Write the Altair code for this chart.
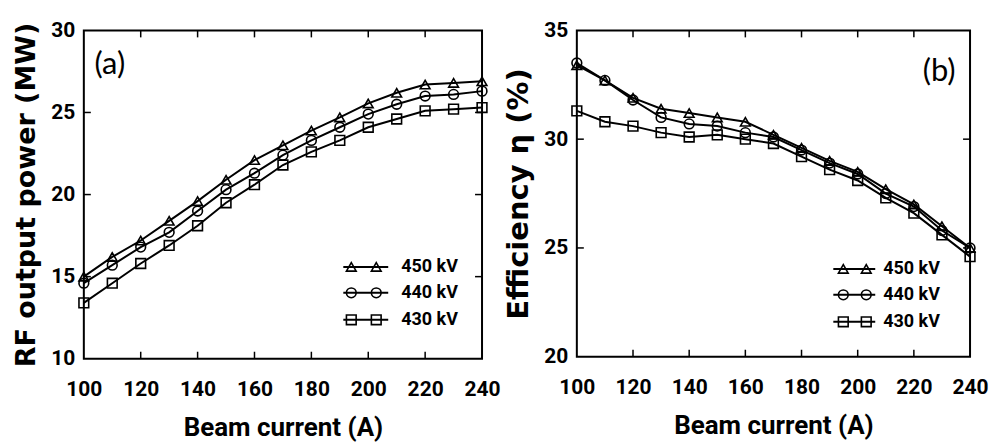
import altair as alt
import pandas as pd

currents = [100, 110, 120, 130, 140, 150, 160, 170, 180, 190, 200, 210, 220, 230, 240]
series = ["450 kV", "440 kV", "430 kV"]
shapes = ["triangle-up", "circle", "square"]

power_450 = [15.0, 16.2, 17.2, 18.4, 19.6, 20.9, 22.1, 23.0, 23.9, 24.7, 25.55, 26.2, 26.7, 26.8, 26.9]
power_440 = [14.6, 15.7, 16.8, 17.7, 19.0, 20.3, 21.3, 22.4, 23.3, 24.1, 24.9, 25.5, 26.0, 26.1, 26.3]
power_430 = [13.4, 14.6, 15.8, 16.9, 18.1, 19.5, 20.6, 21.8, 22.6, 23.3, 24.1, 24.6, 25.1, 25.2, 25.3]

eff_450 = [33.4, 32.7, 31.9, 31.4, 31.2, 31.0, 30.8, 30.2, 29.6, 29.0, 28.5, 27.7, 27.0, 26.0, 25.0]
eff_440 = [33.5, 32.7, 31.8, 31.0, 30.7, 30.6, 30.3, 30.1, 29.5, 28.9, 28.4, 27.5, 26.9, 25.8, 25.0]
eff_430 = [31.3, 30.8, 30.6, 30.3, 30.1, 30.2, 30.0, 29.8, 29.2, 28.6, 28.1, 27.3, 26.6, 25.6, 24.6]

x_ticks = [100, 120, 140, 160, 180, 200, 220, 240]
x_inner_ticks = [120, 140, 160, 180, 200, 220]
y_ticks_a = [10, 15, 20, 25, 30]
y_inner_ticks_a = [15, 20, 25]
y_ticks_b = [20, 25, 30, 35]
y_inner_ticks_b = [25, 30]

NARROW = "Roboto, Liberation Sans, sans-serif"
WIDE = "DejaVu Sans, Liberation Sans, sans-serif"


def long_df(vals):
    rows = []
    for s, v in zip(series, vals):
        for c, y in zip(currents, v):
            rows.append({"current": c, "voltage": s, "value": y})
    return pd.DataFrame(rows)


def panel(df, ydom, yticks, yinner, ytitle, ytitle_size, tag, tag_x, tag_y,
          w, h, leg_x0, leg_x1, leg_m1, leg_m2, leg_tx, leg_rows):
    xs = alt.Scale(domain=[100, 240], nice=False)
    ys = alt.Scale(domain=ydom, nice=False)
    xax = alt.Axis(values=x_ticks, title="Beam current (A)", ticks=False, domain=False,
                   grid=False, labelFont=NARROW, labelFontWeight="bold", labelFontSize=21,
                   labelColor="black", labelPadding=20, titleFont=NARROW,
                   titleFontWeight="bold", titleFontSize=26, titleColor="black",
                   titlePadding=15, labelFlush=False)
    yax = alt.Axis(values=yticks, title=ytitle, ticks=False, domain=False, grid=False,
                   labelFont=NARROW, labelFontWeight="bold", labelFontSize=21,
                   labelColor="black", labelPadding=9, titleFont=WIDE,
                   titleFontWeight="bold", titleFontSize=ytitle_size, titleColor="black",
                   titlePadding=10, labelFlush=False)
    base = alt.Chart(df)
    shape_scale = alt.Scale(domain=series, range=shapes)
    lines = base.mark_line(color="black", strokeWidth=2).encode(
        x=alt.X("current:Q", scale=xs, axis=xax),
        y=alt.Y("value:Q", scale=ys, axis=yax),
        detail="voltage:N",
    )
    pts = base.mark_point(color="black", filled=False, strokeWidth=1.6, size=95, opacity=1).encode(
        x="current:Q", y="value:Q",
        shape=alt.Shape("voltage:N", scale=shape_scale, legend=None),
    )
    layers = [lines, pts]
    dummy = pd.DataFrame({"d": [0]})
    # inward ticks
    xt = pd.DataFrame({"t": x_inner_ticks})
    layers.append(alt.Chart(xt).mark_rule(color="black", strokeWidth=1.5).encode(
        x=alt.X("t:Q", scale=xs), y=alt.value(0), y2=alt.value(7)))
    layers.append(alt.Chart(xt).mark_rule(color="black", strokeWidth=1.5).encode(
        x=alt.X("t:Q", scale=xs), y=alt.value(h), y2=alt.value(h - 7)))
    yt = pd.DataFrame({"t": yinner})
    layers.append(alt.Chart(yt).mark_rule(color="black", strokeWidth=1.5).encode(
        y=alt.Y("t:Q", scale=ys), x=alt.value(0), x2=alt.value(7)))
    layers.append(alt.Chart(yt).mark_rule(color="black", strokeWidth=1.5).encode(
        y=alt.Y("t:Q", scale=ys), x=alt.value(w), x2=alt.value(w - 7)))
    # panel tag
    layers.append(alt.Chart(dummy).mark_text(font="Lato", fontSize=31, color="black",
                                             align="center", baseline="middle", text=tag).encode(
        x=alt.value(tag_x), y=alt.value(tag_y)))
    # manual legend
    for s, shp, ry in zip(series, shapes, leg_rows):
        layers.append(alt.Chart(dummy).mark_rule(color="black", strokeWidth=2).encode(
            x=alt.value(leg_x0), x2=alt.value(leg_x1), y=alt.value(ry)))
        for mx in (leg_m1, leg_m2):
            layers.append(alt.Chart(dummy).mark_point(color="black", filled=False, strokeWidth=1.6,
                                                      size=95, opacity=1, shape=shp).encode(
                x=alt.value(mx), y=alt.value(ry)))
        layers.append(alt.Chart(dummy).mark_text(font=NARROW, fontWeight="bold", fontSize=18,
                                                 color="black", align="left", baseline="middle",
                                                 text=s).encode(
            x=alt.value(leg_tx), y=alt.value(ry)))
    return alt.layer(*layers).properties(width=w, height=h)


df_a = long_df([power_450, power_440, power_430])
df_b = long_df([eff_450, eff_440, eff_430])

left = panel(df_a, [10, 30], y_ticks_a, y_inner_ticks_a, "RF output power (MW)", 27,
             "(a)", 26, 35, 399, 329, 260, 305, 268, 293, 318, [237, 263, 290])
right = panel(df_b, [20, 35], y_ticks_b, y_inner_ticks_b, "Efficiency \u03b7 (%)", 29,
              "(b)", 363, 42, 394, 327, 257, 299, 267, 290, 307, [239, 265, 292])

chart = alt.hconcat(left, right, spacing=95, bounds="flush").properties(
    padding={"left": 11, "top": 18, "right": 0, "bottom": 0},
    background="white",
).configure_view(stroke="black", strokeWidth=2)

chart.save("out.html", embed_options={"renderer": "svg", "actions": False})
